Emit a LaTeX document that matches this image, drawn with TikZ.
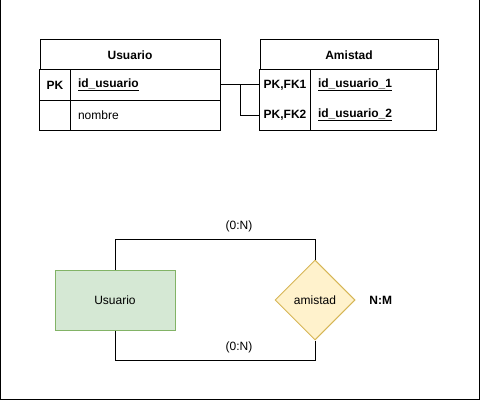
\documentclass[tikz,border=0pt]{standalone}
\usepackage{fontspec}
\setmainfont{Liberation Sans}
\usepackage{xcolor}
\usetikzlibrary{positioning, shapes.geometric}
\definecolor{entfill}{HTML}{D5E8D4}
\definecolor{entdraw}{HTML}{82B366}
\definecolor{relfill}{HTML}{FFF2CC}
\definecolor{reldraw}{HTML}{D6B656}

\begin{document}
\begin{tikzpicture}[
  x=1pt, y=-1pt,
  line width=1pt,
  every node/.style={font=\fontsize{12}{14}\selectfont},
  header/.style={draw, minimum width=180pt, minimum height=30pt, inner sep=0pt, font=\fontsize{12}{14}\selectfont\bfseries},
  keycell/.style={minimum width=50pt, minimum height=30pt, inner sep=0pt, font=\fontsize{12}{14}\selectfont\bfseries},
  fieldcell/.style={text width=134pt, inner xsep=8pt, inner ysep=0pt, minimum height=30pt, align=left},
  keyfield/.style={fieldcell, font=\fontsize{12}{14}\selectfont\bfseries},
  entity/.style={rectangle, draw=entdraw, fill=entfill, minimum width=120pt, minimum height=60pt},
  relation/.style={diamond, draw=reldraw, fill=relfill, minimum width=80pt, minimum height=80pt, inner sep=0pt},
  card/.style={inner sep=2pt}
]
\useasboundingbox (0,0) rectangle (481,401);
\draw (0.5,-2) rectangle (479.5,399.5);

\node[header] (usrh) at (130,55) {Usuario};
\node[keycell, minimum width=30pt] (usrpk) at (55,85) {PK};
\node[keyfield] (usrid) at (145,85) {\underline{id\_usuario}};
\node[keycell, minimum width=30pt] (usrnk) at (55,115) {};
\node[fieldcell] (usrnom) at (145,115) {nombre};
\draw (usrpk.north west) rectangle (usrnom.south east);
\draw (usrpk.north east) -- (usrnk.south east);
\draw (usrpk.south west) -- (usrid.south east);

\node[header, minimum width=178pt] (amh) at (349,55) {Amistad};
\node[keycell] (amfk1) at (285,85) {PK,FK1};
\node[keyfield, text width=110pt] (amid1) at (373,85) {\underline{id\_usuario\_1}};
\node[keycell] (amfk2) at (285,115) {PK,FK2};
\node[keyfield, text width=110pt] (amid2) at (373,115) {\underline{id\_usuario\_2}};
\draw (amfk1.north west) rectangle (amid2.south east);
\draw (amfk1.north east) -- (amfk2.south east);

\draw (usrid.east) -- (amfk1.west);
\draw (usrid.east) -- ++(20,0) |- (amfk2.west);

\node[entity] (ent) at (115,300) {Usuario};
\node[relation] (rel) at (315,300) {amistad};
\node[right=10pt of rel, font=\fontsize{12}{14}\selectfont\bfseries] (nm) {N:M};

\draw (ent.north) -- ++(0,-30) -| node[card, pos=0.31, above=5pt] (c1) {(0:N)} (rel.north);
\draw (ent.south) -- ++(0,30) -| node[card, pos=0.31, above=5pt] (c2) {(0:N)} (rel.south);
\end{tikzpicture}
\end{document}
